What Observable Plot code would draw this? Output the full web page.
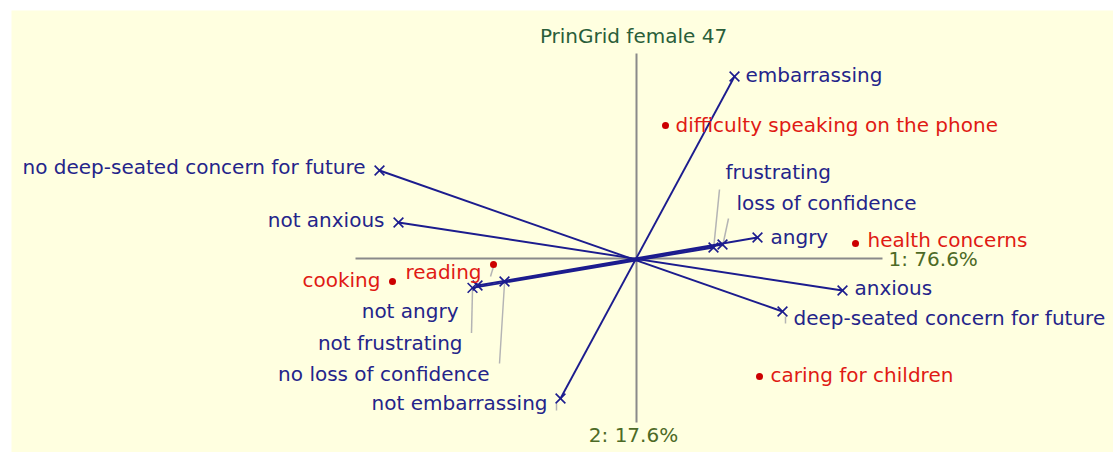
<!DOCTYPE html>
<html>
<head>
<meta charset="utf-8">
<script src="https://cdn.jsdelivr.net/npm/d3@7"></script>
<script src="https://cdn.jsdelivr.net/npm/@observablehq/plot@0.6"></script>
<style>
  html, body { margin: 0; padding: 0; background: #ffffff; }
  #chart svg { display: block; }
</style>
</head>
<body>
<div id="chart"></div>
<script>
// ---- DATA (principal component scores) ----
const title = "PrinGrid female 47";
const axis1Label = "1: 76.6%";
const axis2Label = "2: 17.6%";
const axis1Extent = [-1.405, 1.23];   // horizontal axis, component 1
const axis2Extent = [-0.82, 1.025];   // vertical axis, component 2

// constructs: pole A / pole B with their coordinates
const poleA = ["embarrassing", "deep-seated concern for future", "anxious", "angry", "frustrating", "loss of confidence"];
const poleAx = [0.49, 0.73, 1.03, 0.605, 0.385, 0.43];
const poleAy = [0.91, -0.265, -0.16, 0.105, 0.055, 0.07];
const poleB = ["not embarrassing", "no deep-seated concern for future", "not anxious", "not angry", "not frustrating", "no loss of confidence"];
const poleBx = [-0.38, -1.285, -1.19, -0.795, -0.82, -0.66];
const poleBy = [-0.70, 0.44, 0.18, -0.135, -0.147, -0.115];

// elements
const elements = ["difficulty speaking on the phone", "health concerns", "caring for children", "cooking", "reading"];
const elemX = [0.145, 1.095, 0.615, -1.22, -0.715];
const elemY = [0.665, 0.075, -0.59, -0.115, -0.03];

// ---- LAYOUT (label placement, pixels) ----
const labelPlace = {
  "embarrassing": {dx: 11, dy: -1, anchor: "start"},
  "not embarrassing": {dx: -13, dy: 5, anchor: "end", leader: true},
  "deep-seated concern for future": {dx: 11, dy: 7, anchor: "start", leader: true},
  "no deep-seated concern for future": {dx: -14, dy: -3, anchor: "end"},
  "anxious": {dx: 12, dy: -2, anchor: "start"},
  "not anxious": {dx: -14, dy: -2, anchor: "end"},
  "angry": {dx: 13, dy: 0, anchor: "start"},
  "frustrating": {dx: 12, dy: -75, anchor: "start", lx: 6, ly: -58},
  "loss of confidence": {dx: 14, dy: -41, anchor: "start", lx: 6, ly: -26},
  "not angry": {dx: -19, dy: 26, anchor: "end"},
  "not frustrating": {dx: -10, dy: 56, anchor: "end", lx: -1, ly: 45},
  "no loss of confidence": {dx: -15, dy: 93, anchor: "end", lx: -5, ly: 82},
  "difficulty speaking on the phone": {dx: 10, dy: 0, anchor: "start"},
  "health concerns": {dx: 12, dy: -3, anchor: "start"},
  "caring for children": {dx: 11, dy: -1, anchor: "start"},
  "cooking": {dx: -12, dy: -1, anchor: "end"},
  "reading": {dx: -12, dy: 8, anchor: "end", lx: -3, ly: 12}
};

const W = 1113, H = 452;
const mL = 11, mT = 10;
const k = 200; // pixels per unit (equal aspect)
const originPx = [636, 258];
const xDomain = [(mL - originPx[0]) / k, (W - originPx[0]) / k];
const yDomain = [(originPx[1] - H) / k, (originPx[1] - mT) / k];

const navy = "#1c1c8e";
const navyText = "#24248a";
const red = "#e01a14";
const redDot = "#cc0000";
const green = "#2a5e3a";
const olive = "#4d6a26";
const font = "DejaVu Sans, Verdana, sans-serif";
const fs = 20;

const constructs = poleA.map((a, i) => ({a, b: poleB[i], ax: poleAx[i], ay: poleAy[i], bx: poleBx[i], by: poleBy[i]}));
const poles = constructs.flatMap(c => [{name: c.a, x: c.ax, y: c.ay}, {name: c.b, x: c.bx, y: c.by}]);
const elems = elements.map((e, i) => ({name: e, x: elemX[i], y: elemY[i]}));

// leader lines (grey) from marker to label
const leaders = [...poles, ...elems].filter(p => {
  const L = labelPlace[p.name];
  return L.leader || L.lx !== undefined;
}).map(p => {
  const L = labelPlace[p.name];
  const lx = L.lx !== undefined ? L.lx : (L.anchor === "end" ? -4 : 3);
  const ly = L.ly !== undefined ? L.ly : 12;
  const sx = L.lx !== undefined ? 0 : (L.anchor === "end" ? -4 : 3);
  const sy = L.lx !== undefined ? 2 : 5;
  return {x1: p.x + sx / k, y1: p.y - sy / k, x2: p.x + lx / k, y2: p.y - ly / k};
});

const labelMarks = (list, color) => list.map(p => {
  const L = labelPlace[p.name];
  return Plot.text([p], {x: "x", y: "y", text: "name", dx: L.dx, dy: L.dy, textAnchor: L.anchor,
    fill: color, fontSize: fs, fontFamily: font});
});

const chart = Plot.plot({
  width: W, height: H,
  marginLeft: mL, marginTop: mT, marginRight: 0, marginBottom: 0,
  x: {domain: xDomain, axis: null},
  y: {domain: yDomain, axis: null},
  style: {background: "transparent", overflow: "visible"},
  marks: [
    Plot.frame({fill: "#ffffe0", stroke: null}),
    // axes
    Plot.link([0], {x1: axis1Extent[0], x2: axis1Extent[1], y1: 0, y2: 0, stroke: "#8a8a8a", strokeWidth: 2}),
    Plot.link([0], {x1: 0, x2: 0, y1: axis2Extent[0], y2: axis2Extent[1], stroke: "#8a8a8a", strokeWidth: 2}),
    Plot.text([axis1Label], {x: axis1Extent[1], y: 0, text: d => d, dx: 6, dy: 1, textAnchor: "start", fill: olive, fontSize: fs, fontFamily: font}),
    Plot.text([axis2Label], {x: 0, y: axis2Extent[0], text: d => d, dx: -3, dy: 13, textAnchor: "middle", fill: olive, fontSize: fs, fontFamily: font}),
    Plot.text([title], {x: 0, frameAnchor: "top", text: d => d, dx: -3, dy: 18, fill: green, fontSize: fs, fontFamily: font}),
    // leaders
    Plot.link(leaders, {x1: "x1", y1: "y1", x2: "x2", y2: "y2", stroke: "#b4b4b4", strokeWidth: 1.5}),
    // construct lines
    Plot.link(constructs, {x1: "ax", y1: "ay", x2: "bx", y2: "by", stroke: navy, strokeWidth: 1.9}),
    Plot.dot(poles, {x: "x", y: "y", symbol: "times", r: 4.5, stroke: navy, strokeWidth: 1.6}),
    // elements
    Plot.dot(elems, {x: "x", y: "y", r: 3.5, fill: redDot, stroke: null}),
    ...labelMarks(poles, navyText),
    ...labelMarks(elems, red)
  ]
});
document.getElementById("chart").append(chart);
</script>
</body>
</html>
